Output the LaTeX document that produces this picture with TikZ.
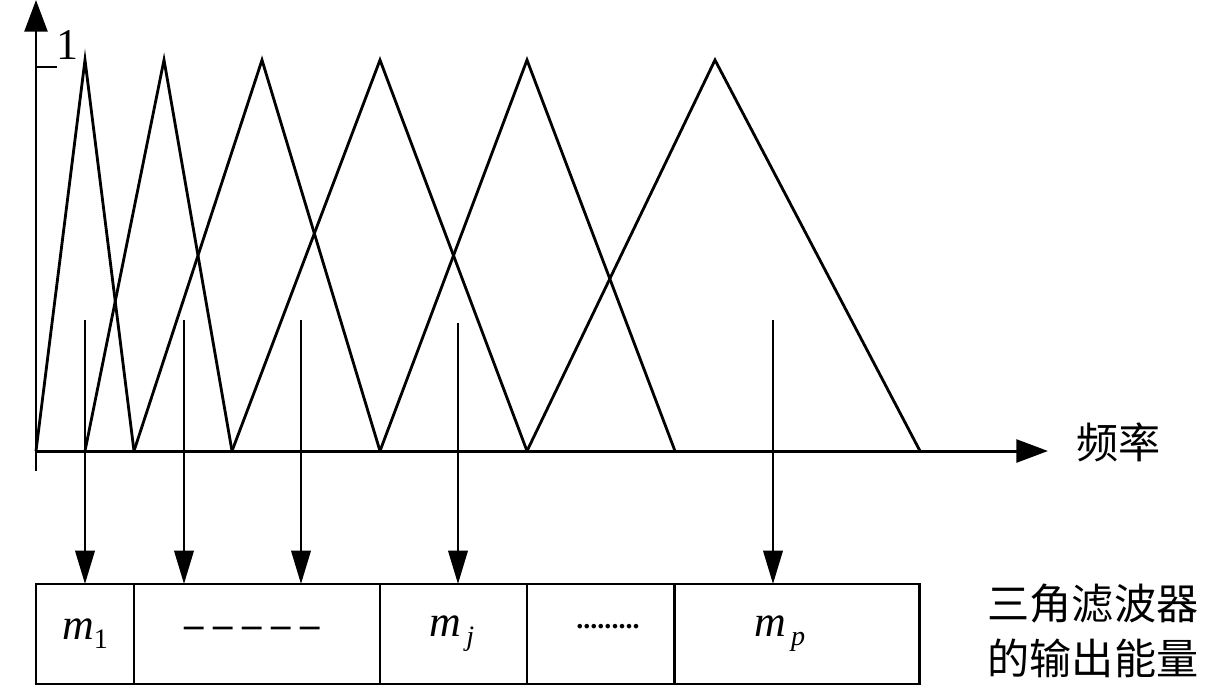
\documentclass[tikz,border=0pt]{standalone}
\usepackage{fontspec}
\setmainfont{Liberation Serif}
\newfontfamily\cjk{Noto Sans CJK SC}
\usetikzlibrary{arrows.meta, positioning}
\newcommand{\mlab}[1]{\textit{m}\raisebox{-0.45ex}{\fontsize{16}{16}\selectfont #1}}

\begin{document}
\begin{tikzpicture}[x=0.02cm, y=-0.02cm,
    axis/.style={line width=1.7pt, -{Triangle[length=18pt, width=13pt]}},
    tri/.style={line width=1.6pt, line join=miter},
    probe/.style={line width=1.6pt, -{Triangle[length=19pt, width=11pt]}},
    cell/.style={rectangle, draw, line width=1.6pt, minimum height=2cm, inner sep=0pt, outer sep=0pt},
    sym/.style={font=\fontsize{25}{28}\selectfont},
    cjklabel/.style={font=\cjk\fontsize{24}{31}\selectfont, align=center, inner sep=0pt}]
\useasboundingbox (0,0) rectangle (1221,698);

\coordinate (o) at (36,451);
\coordinate (ybot) at (36,471);
\coordinate (ytop) at (36,0);
\coordinate (xtip) at (1048,451);
\coordinate (one) at (57,67);

\draw[axis] (ybot) -- (ytop);
\draw[axis] (o) -- (xtip);
\draw[line width=1.6pt] (o |- one) -- (one);
\node[sym, anchor=south west, inner sep=0pt] (onelab) at (56,60) {1};
\node[cjklabel, right=16pt of xtip, yshift=5pt] (freq) {频率};

\foreach \a/\b/\c in {36/85/134, 85/164/232, 134/262/380, 232/380/527, 380/527/675, 527/715/920}
    \draw[tri] (\a,451) -- (\b,60) -- (\c,451);

\node[cell, minimum width=1.96cm, anchor=north west] (c1) at (36,584) {};
\node[cell, minimum width=4.92cm] (c2) [right=0pt of c1] {};
\node[cell, minimum width=2.94cm] (c3) [right=0pt of c2] {};
\node[cell, minimum width=2.96cm] (c4) [right=0pt of c3] {};
\node[cell, minimum width=4.9cm] (c5) [right=0pt of c4] {};

\node[sym] (m1) at (85,634) {\mlab{1}};
\node[font=\bfseries\fontsize{22}{24}\selectfont] (mdash) at (252,632) {\textendash\hspace{0.25em}\textendash\hspace{0.25em}\textendash\hspace{0.25em}\textendash\hspace{0.25em}\textendash};
\node[sym] (mj) at (452,634) {\mlab{\,\textit{j}}};
\node[font=\bfseries\fontsize{16}{18}\selectfont] (mdots) at (608,627) {.........};
\node[sym] (mp) at (780,634) {\mlab{\,\textit{p}}};

\node[cjklabel] (outlab) at (1093,631) {三角滤波器\\的输出能量};

\coordinate (p1) at (85,320);
\coordinate (p2) at (184,320);
\coordinate (p3) at (301,320);
\coordinate (p4) at (458,323);
\coordinate (p5) at (773,320);

\draw[probe] (p1) -- (p1 |- c1.north);
\draw[probe] (p2) -- (p2 |- c2.north);
\draw[probe] (p3) -- (p3 |- c2.north);
\draw[probe] (p4) -- (p4 |- c3.north);
\draw[probe] (p5) -- (p5 |- c5.north);
\end{tikzpicture}
\end{document}
